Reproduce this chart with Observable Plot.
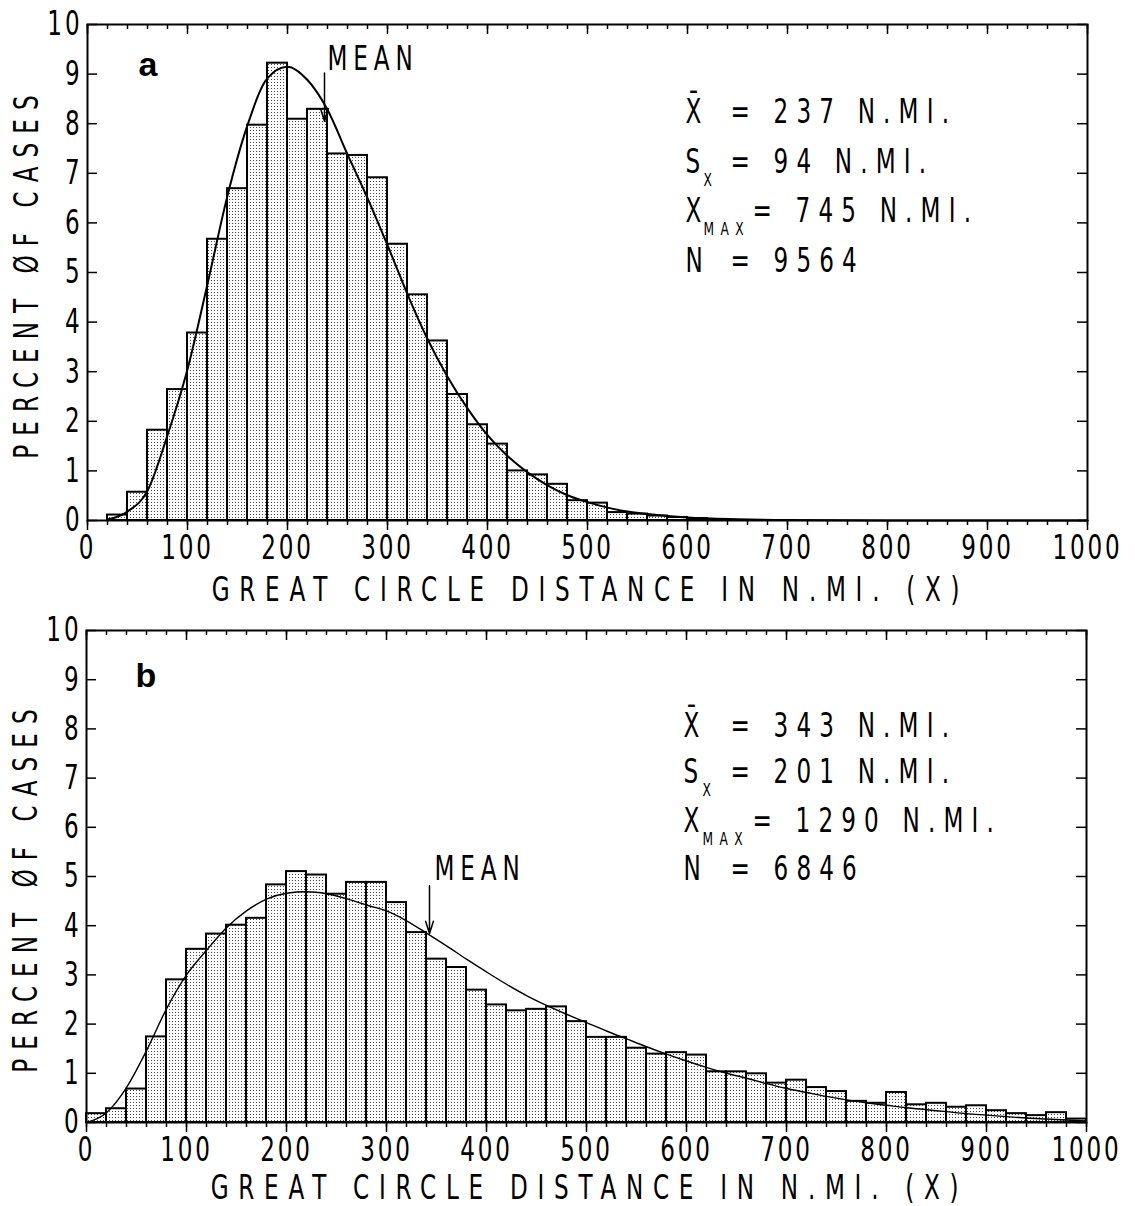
<!DOCTYPE html>
<html>
<head>
<meta charset="utf-8">
<script src="https://cdn.jsdelivr.net/npm/d3@7"></script>
<script src="https://cdn.jsdelivr.net/npm/@observablehq/plot@0.6"></script>
<style>
  html, body { margin: 0; padding: 0; background: #fff; }
  #chart svg { display: block; }
</style>
</head>
<body>
<svg width="0" height="0" style="position:absolute">
  <defs>
    <pattern id="dots" width="3" height="3" patternUnits="userSpaceOnUse">
      <rect width="3" height="3" fill="#ffffff"></rect>
      <rect x="1" y="1" width="1" height="1" fill="#444444"></rect>
    </pattern>
  </defs>
</svg>
<div id="chart"></div>
<script>
// ---------------- DATA ----------------
const binWidth = 20;

// Panel a
const binStartsA = [20, 40, 60, 80, 100, 120, 140, 160, 180, 200, 220, 240, 260, 280, 300, 320, 340, 360, 380, 400, 420, 440, 460, 480, 500, 520, 540, 560, 580, 600, 620];
const percentA   = [0.11, 0.57, 1.82, 2.64, 3.78, 5.67, 6.69, 7.97, 9.22, 8.09, 8.29, 7.39, 7.36, 6.91, 5.57, 4.55, 3.62, 2.54, 1.93, 1.54, 1.00, 0.92, 0.73, 0.40, 0.35, 0.16, 0.13, 0.09, 0.06, 0.04, 0.02];
const curveXA = [20, 40, 60, 80, 100, 120, 140, 160, 180, 200, 220, 240, 260, 280, 300, 320, 340, 360, 380, 400, 420, 440, 460, 480, 500, 520, 540, 560, 580, 600, 650, 700, 800, 1000];
const curveYA = [0.02, 0.18, 0.60, 1.72, 3.05, 4.77, 6.55, 7.97, 8.92, 9.15, 8.88, 8.28, 7.38, 6.50, 5.55, 4.56, 3.66, 2.90, 2.26, 1.72, 1.30, 0.97, 0.71, 0.51, 0.37, 0.26, 0.18, 0.13, 0.09, 0.06, 0.025, 0.01, 0.0, 0.0];
const statsA = {mean: 237, sd: 94, max: 745, n: 9564};
const arrowA = {top: 9.02, tip: 8.05};

// Panel b
const binStartsB = [0, 20, 40, 60, 80, 100, 120, 140, 160, 180, 200, 220, 240, 260, 280, 300, 320, 340, 360, 380, 400, 420, 440, 460, 480, 500, 520, 540, 560, 580, 600, 620, 640, 660, 680, 700, 720, 740, 760, 780, 800, 820, 840, 860, 880, 900, 920, 940, 960, 980];
const percentB   = [0.18, 0.28, 0.68, 1.74, 2.90, 3.52, 3.83, 4.01, 4.15, 4.83, 5.10, 5.03, 4.64, 4.88, 4.88, 4.47, 3.86, 3.32, 3.15, 2.69, 2.39, 2.27, 2.30, 2.35, 2.05, 1.73, 1.73, 1.51, 1.39, 1.42, 1.37, 1.03, 1.03, 0.99, 0.80, 0.86, 0.71, 0.63, 0.43, 0.39, 0.61, 0.36, 0.39, 0.31, 0.34, 0.24, 0.18, 0.14, 0.20, 0.07];
const curveXB = [0, 20, 40, 60, 80, 100, 120, 140, 160, 180, 200, 220, 240, 260, 280, 300, 320, 340, 360, 380, 400, 420, 440, 460, 480, 500, 520, 540, 560, 580, 600, 620, 640, 660, 680, 700, 720, 740, 760, 780, 800, 820, 840, 860, 880, 900, 920, 940, 960, 980, 1000];
const curveYB = [0.0, 0.20, 0.71, 1.46, 2.31, 3.00, 3.50, 3.96, 4.30, 4.54, 4.66, 4.69, 4.65, 4.55, 4.42, 4.30, 4.10, 3.85, 3.59, 3.32, 3.06, 2.81, 2.58, 2.38, 2.20, 2.03, 1.86, 1.70, 1.54, 1.39, 1.25, 1.12, 1.00, 0.90, 0.79, 0.69, 0.61, 0.53, 0.46, 0.40, 0.35, 0.30, 0.26, 0.22, 0.18, 0.15, 0.12, 0.09, 0.07, 0.05, 0.03];
const statsB = {mean: 343, sd: 201, max: 1290, n: 6846};
const arrowB = {top: 4.81, tip: 3.84};

// Axis ticks and labels
const xMajorTicks = [0, 100, 200, 300, 400, 500, 600, 700, 800, 900, 1000];
const xMinorTicks = d3.range(0, 1001, 20);
const yTickValues = [0, 1, 2, 3, 4, 5, 6, 7, 8, 9, 10];
const xTitle = "GREAT CIRCLE DISTANCE IN N.MI. (X)";
const yTitle = "PERCENT \u00D8F CASES";

// ---------------- STYLE ----------------
const FONT = "'DejaVu Sans', 'Liberation Sans', sans-serif";
const FS = 34;
const SUBFS = 18;
const SX = 0.68;

function panel(cfg) {
  const width = 1135, height = 603;
  const {mL, mR, mT, mB} = cfg.layout;
  const W = width - mL - mR, H = height - mT - mB;
  const bars = cfg.binStarts.map((s, i) => ({x1: s, x2: s + binWidth, v: cfg.percent[i]}));
  const curve = cfg.curveX.map((x, i) => ({x, y: cfg.curveY[i]}));
  const mean = [{x: cfg.stats.mean, top: cfg.arrow.top, tip: cfg.arrow.tip}];
  const s = cfg.stats, L = cfg.statsLayout;
  const lines = [
    {sym: "X\u0304", sub: null, rest: `= ${s.mean} N.MI.`, restDx: L.restDx},
    {sym: "S", sub: "X", rest: `= ${s.sd} N.MI.`, restDx: L.restDx},
    {sym: "X", sub: "MAX", rest: `= ${s.max} N.MI.`, restDx: L.restDxMax},
    {sym: "N", sub: null, rest: `= ${s.n}`, restDx: L.restDx}
  ];
  const statMarks = [];
  lines.forEach((ln, i) => {
    statMarks.push(Plot.text([ln.sym], {text: d => d, frameAnchor: "top-left", dx: L.symDx, dy: L.lineDy[i], lineAnchor: "top", textAnchor: "start", fontSize: FS}));
    if (ln.sub) statMarks.push(Plot.text([ln.sub], {text: d => d, frameAnchor: "top-left", dx: L.subDx, dy: L.lineDy[i] + 25, lineAnchor: "top", textAnchor: "start", fontSize: SUBFS}));
    statMarks.push(Plot.text([ln.rest], {text: d => d, frameAnchor: "top-left", dx: ln.restDx, dy: L.lineDy[i], lineAnchor: "top", textAnchor: "start", fontSize: FS}));
  });

  const svg = Plot.plot({
    width, height,
    marginLeft: mL, marginRight: mR, marginTop: mT, marginBottom: mB,
    x: {domain: [0, 1000]},
    y: {domain: [0, 10]},
    style: {fontFamily: FONT, fontSize: FS + "px", color: "black", background: "white", overflow: "visible"},
    marks: [
      Plot.rect(bars, {x1: "x1", x2: "x2", y1: 0, y2: "v", fill: "url(#dots)", stroke: "black", strokeWidth: 2}),
      Plot.line(curve, {x: "x", y: "y", curve: "monotone-x", stroke: "black", strokeWidth: cfg.curveWidth}),
      Plot.frame({stroke: "black", strokeWidth: 2}),
      Plot.axisX({ticks: xMinorTicks, tickSize: 5, tickFormat: () => "", label: null, strokeWidth: 1.5}),
      Plot.axisX({ticks: xMajorTicks, tickSize: 10, tickPadding: 4, tickFormat: d => String(d), label: null, fontSize: FS, strokeWidth: 1.5}),
      Plot.tickX(xMinorTicks, {x: d => d, insetBottom: H - 5, strokeWidth: 1.5}),
      Plot.tickX(xMajorTicks, {x: d => d, insetBottom: H - 10, strokeWidth: 1.5}),
      Plot.tickY(yTickValues, {y: d => d, insetRight: W - 10, strokeWidth: 1.5}),
      Plot.tickY(yTickValues, {y: d => d, insetLeft: W - 10, strokeWidth: 1.5}),
      Plot.axisY({ticks: yTickValues, tickSize: 0, tickPadding: 5, tickFormat: d => String(d), label: null, fontSize: FS}),
      Plot.arrow(mean, {x1: "x", x2: "x", y1: "top", y2: "tip", stroke: "black", strokeWidth: 1.5, headLength: 13, headAngle: 35}),
      Plot.text(mean, {x: "x", y: "top", text: () => "MEAN", textAnchor: "start", lineAnchor: "bottom", dx: cfg.meanDx, dy: cfg.meanDy, fontSize: FS}),
      Plot.text([xTitle], {text: d => d, frameAnchor: "bottom", textAnchor: "middle", dx: 3, dy: cfg.xTitleDy, lineAnchor: "bottom", fontSize: FS}),
      Plot.text([yTitle], {text: d => d, frameAnchor: "left", textAnchor: "middle", rotate: -90, dx: -60, dy: cfg.yTitleDy, lineAnchor: "middle", fontSize: FS}),
      Plot.text([cfg.letter], {text: d => d, frameAnchor: "top-left", dx: cfg.letterDx, dy: cfg.letterDy, lineAnchor: "bottom", textAnchor: "start", fontFamily: "'Liberation Sans', Arial, sans-serif", fontWeight: "bold", fontSize: 34}),
      ...statMarks
    ]
  });

  // condensed plotter-style lettering
  svg.querySelectorAll("text").forEach(t => {
    const str = t.textContent;
    if (str === "a" || str === "b") return;
    let ls = 12;
    if (/^\d+$/.test(str)) ls = 4.2;
    else if (str === "MEAN") ls = 8.7;
    else if (str === xTitle) ls = 14.3;
    else if (str === yTitle) ls = 13.3;
    else if (str === "MAX") ls = 9.5;
    else if (str.length <= 2) ls = 0;
    t.style.letterSpacing = ls + "px";
    t.setAttribute("transform", (t.getAttribute("transform") || "") + ` scale(${SX},1)`);
  });
  return svg;
}

const chart = document.getElementById("chart");
chart.appendChild(panel({
  layout: {mL: 87, mR: 48, mT: 24, mB: 83},
  binStarts: binStartsA, percent: percentA, curveX: curveXA, curveY: curveYA,
  stats: statsA, arrow: arrowA, curveWidth: 2,
  meanDx: 3, meanDy: -3, xTitleDy: 80, yTitleDy: 0,
  letter: "a", letterDx: 51, letterDy: 51,
  statsLayout: {symDx: 598, subDx: 616, restDx: 643, restDxMax: 665, lineDy: [74, 124, 173, 223]}
}));
chart.appendChild(panel({
  layout: {mL: 86, mR: 49, mT: 27, mB: 84},
  binStarts: binStartsB, percent: percentB, curveX: curveXB, curveY: curveYB,
  stats: statsB, arrow: arrowB, curveWidth: 1.4,
  meanDx: 5, meanDy: -6, xTitleDy: 76, yTitleDy: 10,
  letter: "b", letterDx: 49, letterDy: 56,
  statsLayout: {symDx: 597, subDx: 616, restDx: 644, restDxMax: 666, lineDy: [82, 128, 177, 225]}
}));
</script>
</body>
</html>
